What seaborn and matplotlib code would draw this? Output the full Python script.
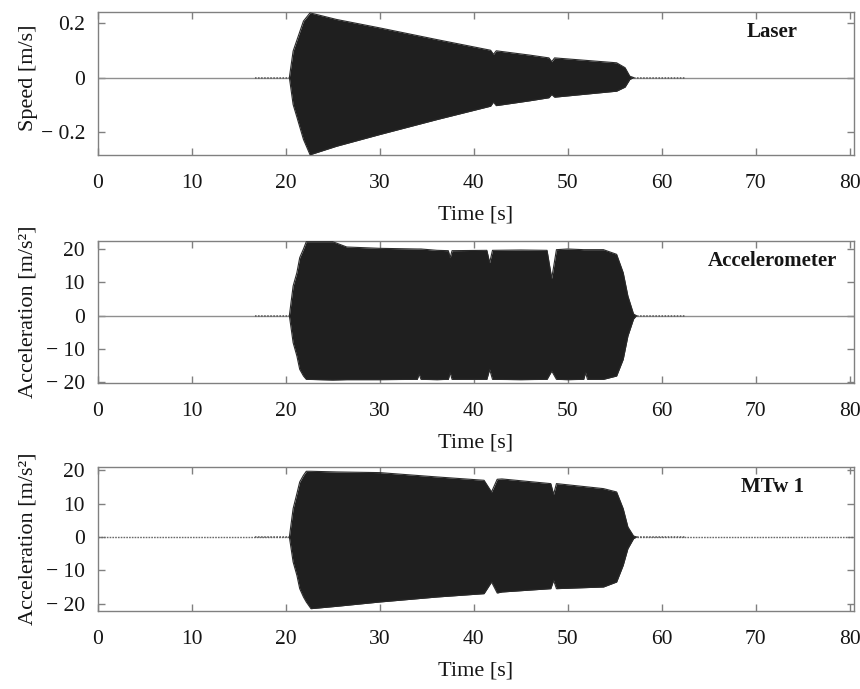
import matplotlib
matplotlib.use("Agg")
import matplotlib.pyplot as plt
import seaborn as sns

# ---------------- data (envelopes) ----------------
time_ticks = [0, 10, 20, 30, 40, 50, 60, 70, 80]
time_labels = ["0", "10", "20", "30", "40", "50", "60", "70", "80"]

speed_ticks = [-0.2, 0.0, 0.2]
speed_labels = ["\u2212 0.2", "0", "0.2"]
acc_ticks = [-20, -10, 0, 10, 20]
acc_labels = ["\u2212 20", "\u2212 10", "0", "10", "20"]

baseline_t = [0.0, 80.5]
baseline_v = [0.0, 0.0]
noise_pre_t = [16.7, 20.4]
noise_post_t = [57.0, 62.5]
noise_v = [0.0, 0.0]

laser_t = [20.4, 20.8, 21.2, 21.9, 22.6, 25.4, 30.0, 36.1, 41.8, 42.1, 42.4,
           46.0, 48.0, 48.3, 48.6, 55.2, 56.1, 56.6, 57.0]
laser_up = [0.0, 0.097, 0.137, 0.207, 0.237, 0.213, 0.182, 0.139, 0.100, 0.085, 0.098,
            0.082, 0.072, 0.058, 0.072, 0.054, 0.036, 0.005, 0.0]
laser_lo = [0.0, -0.099, -0.145, -0.227, -0.283, -0.252, -0.209, -0.154, -0.105, -0.090, -0.103,
            -0.085, -0.074, -0.062, -0.072, -0.050, -0.035, -0.007, 0.0]

accel_t = [20.4, 20.8, 21.2, 21.5, 21.9, 22.2, 25.0, 26.5, 30.0, 34.0, 34.2, 34.4,
           36.1, 37.3, 37.5, 37.7, 41.4, 41.7, 42.0, 45.0, 47.8, 48.3, 48.8, 50.0,
           51.7, 51.9, 52.1, 53.8, 55.2, 55.9, 56.4, 57.0, 57.3]
accel_up = [0.0, 8.9, 12.9, 17.4, 20.0, 22.2, 22.2, 20.6, 20.2, 20.0, 20.0, 20.0,
            19.6, 19.5, 17.4, 19.5, 19.6, 15.9, 19.6, 19.7, 19.6, 11.2, 19.8, 20.0,
            19.8, 19.8, 19.8, 19.8, 18.4, 12.9, 5.9, 0.5, 0.0]
accel_lo = [0.0, -8.1, -12.1, -16.1, -18.1, -19.1, -19.3, -19.2, -19.2, -19.1, -17.5, -19.1,
            -19.2, -19.1, -17.1, -19.1, -19.1, -16.1, -19.1, -19.2, -19.1, -16.6, -19.1, -19.2,
            -19.1, -17.1, -19.1, -19.1, -18.1, -13.1, -6.1, -1.0, 0.0]

mtw_t = [20.4, 20.8, 21.2, 21.5, 21.9, 22.2, 22.7, 25.4, 30.0, 36.1, 41.1, 41.9,
         42.5, 43.0, 48.2, 48.5, 48.8, 53.8, 55.2, 55.9, 56.4, 57.0, 57.3]
mtw_up = [0.0, 8.5, 13.0, 16.5, 18.5, 19.7, 19.7, 19.5, 19.3, 18.0, 17.0, 13.5,
          17.3, 17.4, 16.0, 12.8, 16.0, 14.5, 13.5, 8.5, 3.0, 0.3, 0.0]
mtw_lo = [0.0, -7.5, -11.5, -15.5, -18.0, -19.5, -21.5, -20.8, -19.5, -18.0, -17.0, -13.5,
          -16.8, -16.5, -15.5, -13.0, -15.5, -15.0, -13.5, -8.5, -3.5, -0.5, 0.0]

panel_names = ["Laser", "Accelerometer", "MTw 1"]
ylabels = ["Speed [m/s]", "Acceleration [m/s\u00b2]", "Acceleration [m/s\u00b2]"]

# ---------------- style ----------------
sns.set_theme(style="ticks")
plt.rcParams["font.family"] = ["Liberation Serif", "DejaVu Serif"]

fig = plt.figure(figsize=(8.6, 6.89), dpi=100)
rects = [
    [0.1134, 0.775, 0.8797, 0.2075],
    [0.1134, 0.4446, 0.8797, 0.2061],
    [0.1134, 0.1132, 0.8797, 0.2086],
]
ylims = [(-0.284, 0.24), (-20.1, 22.5), (-22.2, 20.9)]
label_y = [0.54, 0.5, 0.5]
series = [(laser_t, laser_up, laser_lo), (accel_t, accel_up, accel_lo), (mtw_t, mtw_up, mtw_lo)]
yticks = [(speed_ticks, speed_labels), (acc_ticks, acc_labels), (acc_ticks, acc_labels)]

fill_col = "#1f1f1f"
spine_col = "#808080"
text_col = "#151515"

for i in range(3):
    ax = fig.add_axes(rects[i])
    t, up, lo = series[i]
    # zero baseline
    if i < 2:
        sns.lineplot(x=baseline_t, y=baseline_v, ax=ax, color="#8f8f8f", lw=1.0)
    else:
        sns.lineplot(x=baseline_t, y=baseline_v, ax=ax, color="#6a6a6a", lw=1.0,
                     linestyle=(0, (1.2, 0.8)))
    sns.lineplot(x=noise_pre_t, y=noise_v, ax=ax, color="#555555", lw=1.1,
                 linestyle=(0, (1, 1)))
    sns.lineplot(x=noise_post_t, y=noise_v, ax=ax, color="#555555", lw=1.1,
                 linestyle=(0, (1, 1)))
    # oscillation envelope
    ax.fill_between(t, lo, up, color=fill_col, lw=0, zorder=3)
    sns.lineplot(x=t, y=up, ax=ax, color="#2b2b2b", lw=0.8, zorder=4)
    sns.lineplot(x=t, y=lo, ax=ax, color="#2b2b2b", lw=0.8, zorder=4)

    ax.set_xlim(0, 80.45)
    ax.set_ylim(*ylims[i])
    ax.set_xticks(time_ticks)
    ax.set_xticklabels(time_labels)
    ax.set_yticks(yticks[i][0])
    ax.set_yticklabels(yticks[i][1])
    for s in ax.spines.values():
        s.set_color(spine_col)
        s.set_linewidth(1.0)
    ax.tick_params(direction="in", top=True, right=True, length=5, width=1.0,
                   color=spine_col, labelsize=15.5, labelcolor=text_col)
    ax.tick_params(axis="x", pad=14)
    ax.tick_params(axis="y", pad=9)
    ax.set_xlabel("Time [s]", fontsize=16, color=text_col, labelpad=9)
    ax.set_ylabel(ylabels[i], fontsize=16, color=text_col)
    ax.yaxis.set_label_coords(-0.079, label_y[i])
    ax.text(0.8916, 0.86, panel_names[i], transform=ax.transAxes, ha="center",
            va="center", fontsize=15, fontweight="bold", color=text_col, zorder=6)

fig.savefig("out.png", dpi=100, facecolor="white")
